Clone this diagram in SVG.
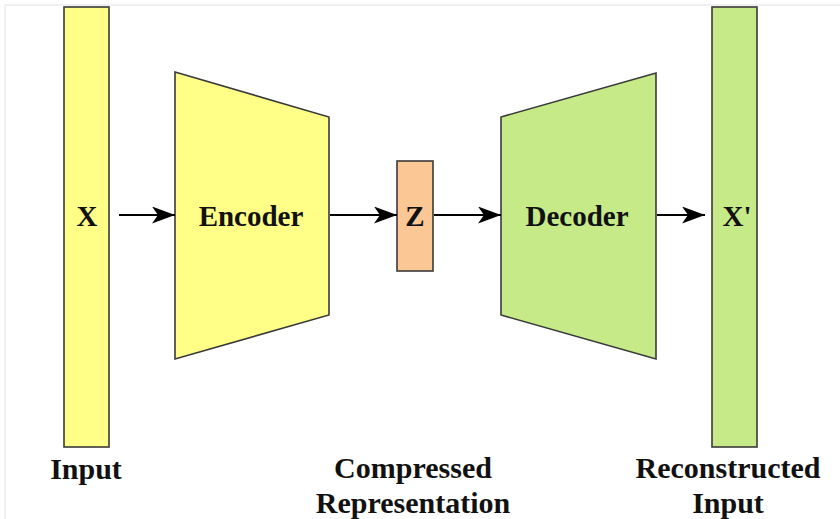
<svg xmlns="http://www.w3.org/2000/svg" width="840" height="519" viewBox="0 0 840 519">
<defs>
<style>
.node{stroke:#3a3a3a;stroke-width:1.6}
.y{fill:#ffff88}
.g{fill:#c5ea87}
.o{fill:#fbc794}
.lbl{font-family:"Liberation Serif","Times New Roman",serif;font-weight:bold;fill:#111;text-anchor:middle}
.in{font-size:29px}
.cap{font-size:30px}
.edge{stroke:#000;stroke-width:2.2;fill:none;marker-end:url(#ah)}
</style>
<marker id="ah" markerWidth="24" markerHeight="17" refX="23" refY="8.5" orient="auto" markerUnits="userSpaceOnUse">
<path d="M0,0 L23,8.5 L0,17 L6,8.5 Z" fill="#000"/>
</marker>
</defs>
<rect width="840" height="519" fill="#fff"/>
<path d="M5,5 H840 M5,5 V519" stroke="#ececec" stroke-width="1.5" fill="none"/>
<g id="input">
<rect class="node y" x="64" y="7" width="45" height="440"/>
<text class="lbl in" x="87" y="226">X</text>
</g>
<g id="encoder">
<polygon class="node y" points="175,72 329,117 329,315 175,359"/>
<text class="lbl in" x="251" y="226">Encoder</text>
</g>
<g id="z">
<rect class="node o" x="397" y="161" width="36" height="110"/>
<text class="lbl in" x="415" y="226">Z</text>
</g>
<g id="decoder">
<polygon class="node g" points="501,117 656,73 656,359 501,315"/>
<text class="lbl in" x="577" y="226">Decoder</text>
</g>
<g id="output">
<rect class="node g" x="712" y="7" width="45" height="440"/>
<text class="lbl in" x="737" y="226">X'</text>
</g>
<g id="connectors">
<line class="edge" x1="119" y1="215" x2="175" y2="215"/>
<line class="edge" x1="330" y1="215" x2="397" y2="215"/>
<line class="edge" x1="434" y1="215" x2="501" y2="215"/>
<line class="edge" x1="657" y1="215" x2="705" y2="215"/>
</g>
<g id="labels">
<text class="lbl cap" x="86" y="479">Input</text>
<text class="lbl cap" x="413" y="478">Compressed</text>
<text class="lbl cap" x="413" y="513">Representation</text>
<text class="lbl cap" x="728" y="478">Reconstructed</text>
<text class="lbl cap" x="728" y="513">Input</text>
</g>
</svg>
